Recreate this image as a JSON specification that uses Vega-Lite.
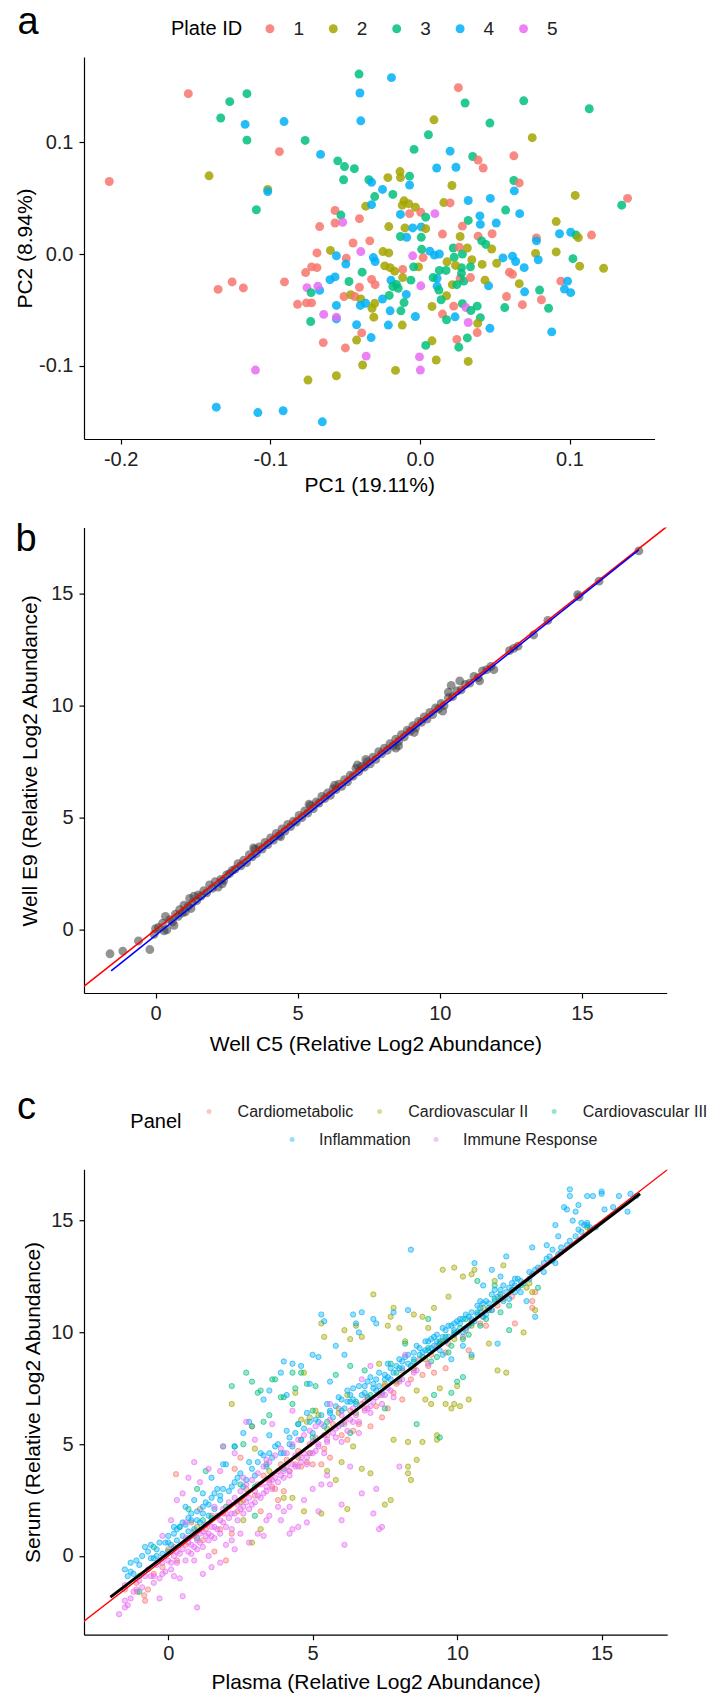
{
"$schema": "https://vega.github.io/schema/vega-lite/v6.json",
"padding": {"left": 14, "top": 4, "right": 5, "bottom": 4},
"background": "white",
"config": {
  "font": "Liberation Sans",
  "view": {"stroke": null},
  "axis": {"grid": false, "domainColor": "#000", "domainWidth": 1.2, "tickColor": "#000", "tickWidth": 1.2, "tickSize": 5, "labelFontSize": 20, "labelColor": "#222", "labelPadding": 5, "titleFontSize": 21, "titleFontWeight": "normal", "titleColor": "#000", "labelFont": "Liberation Sans", "titleFont": "Liberation Sans"},
  "title": {"fontSize": 38, "fontWeight": "normal", "anchor": "start", "frame": "group", "baseline": "alphabetic", "font": "Liberation Sans", "color": "#000"},
  "legend": {"labelFont": "Liberation Sans", "titleFont": "Liberation Sans", "titleFontWeight": "normal", "titleColor": "#000", "labelColor": "#222"}
},
"datasets": {
"a": [
{"pc1":-0.0407,"pc2":0.1613,"plate":"3"},{"pc1":-0.0190,"pc2":0.1581,"plate":"4"},{"pc1":0.0257,"pc2":0.1491,"plate":"1"},{"pc1":-0.1548,"pc2":0.1437,"plate":"1"},{"pc1":-0.1156,"pc2":0.1437,"plate":"3"},{"pc1":-0.0401,"pc2":0.1443,"plate":"4"},{"pc1":-0.1271,"pc2":0.1366,"plate":"3"},{"pc1":0.0694,"pc2":0.1373,"plate":"3"},{"pc1":0.0302,"pc2":0.1354,"plate":"3"},{"pc1":0.1132,"pc2":0.1302,"plate":"3"},
{"pc1":-0.1331,"pc2":0.1219,"plate":"3"},{"pc1":-0.1168,"pc2":0.1162,"plate":"4"},{"pc1":-0.0908,"pc2":0.1187,"plate":"4"},{"pc1":-0.0395,"pc2":0.1194,"plate":"4"},{"pc1":0.0094,"pc2":0.1203,"plate":"2"},{"pc1":0.0468,"pc2":0.1174,"plate":"3"},{"pc1":0.0057,"pc2":0.1069,"plate":"3"},{"pc1":0.0751,"pc2":0.1043,"plate":"2"},{"pc1":-0.1156,"pc2":0.1021,"plate":"3"},{"pc1":-0.0767,"pc2":0.1018,"plate":"3"},
{"pc1":-0.0939,"pc2":0.0918,"plate":"1"},{"pc1":-0.0039,"pc2":0.0938,"plate":"3"},{"pc1":0.0202,"pc2":0.0922,"plate":"4"},{"pc1":-0.0664,"pc2":0.0893,"plate":"4"},{"pc1":0.0628,"pc2":0.0880,"plate":"1"},{"pc1":0.0353,"pc2":0.0874,"plate":"3"},{"pc1":0.0389,"pc2":0.0842,"plate":"1"},{"pc1":-0.0549,"pc2":0.0835,"plate":"3"},{"pc1":-0.1409,"pc2":0.0701,"plate":"2"},{"pc1":-0.2076,"pc2":0.0650,"plate":"1"},
{"pc1":-0.0504,"pc2":0.0784,"plate":"3"},{"pc1":-0.0438,"pc2":0.0765,"plate":"3"},{"pc1":0.0112,"pc2":0.0771,"plate":"4"},{"pc1":0.0241,"pc2":0.0778,"plate":"4"},{"pc1":0.0423,"pc2":0.0771,"plate":"1"},{"pc1":-0.0133,"pc2":0.0739,"plate":"2"},{"pc1":-0.0214,"pc2":0.0685,"plate":"2"},{"pc1":-0.0130,"pc2":0.0685,"plate":"2"},{"pc1":-0.0069,"pc2":0.0698,"plate":"3"},{"pc1":-0.0510,"pc2":0.0666,"plate":"3"},
{"pc1":-0.0341,"pc2":0.0666,"plate":"3"},{"pc1":-0.0323,"pc2":0.0643,"plate":"4"},{"pc1":0.0628,"pc2":0.0659,"plate":"3"},{"pc1":0.0664,"pc2":0.0637,"plate":"1"},{"pc1":0.0214,"pc2":0.0614,"plate":"2"},{"pc1":-0.0069,"pc2":0.0618,"plate":"4"},{"pc1":-0.1017,"pc2":0.0579,"plate":"2"},{"pc1":-0.1017,"pc2":0.0560,"plate":"4"},{"pc1":-0.0250,"pc2":0.0579,"plate":"4"},{"pc1":0.1038,"pc2":0.0525,"plate":"2"},
{"pc1":0.1388,"pc2":0.0499,"plate":"1"},{"pc1":0.1349,"pc2":0.0438,"plate":"3"},{"pc1":-0.1093,"pc2":0.0397,"plate":"3"},{"pc1":-0.0302,"pc2":0.0515,"plate":"3"},{"pc1":-0.0181,"pc2":0.0534,"plate":"3"},{"pc1":0.0631,"pc2":0.0566,"plate":"4"},{"pc1":0.0471,"pc2":0.0499,"plate":"4"},{"pc1":0.0323,"pc2":0.0480,"plate":"4"},{"pc1":0.0160,"pc2":0.0461,"plate":"2"},{"pc1":0.0202,"pc2":0.0458,"plate":"1"},
{"pc1":-0.0106,"pc2":0.0477,"plate":"2"},{"pc1":-0.0118,"pc2":0.0438,"plate":"2"},{"pc1":-0.0075,"pc2":0.0451,"plate":"2"},{"pc1":-0.0030,"pc2":0.0419,"plate":"2"},{"pc1":-0.0362,"pc2":0.0429,"plate":"2"},{"pc1":-0.0323,"pc2":0.0442,"plate":"4"},{"pc1":-0.0567,"pc2":0.0390,"plate":"1"},{"pc1":-0.0528,"pc2":0.0349,"plate":"3"},{"pc1":-0.0404,"pc2":0.0317,"plate":"1"},{"pc1":-0.0516,"pc2":0.0285,"plate":"5"},
{"pc1":-0.0567,"pc2":0.0278,"plate":"1"},{"pc1":-0.0670,"pc2":0.0246,"plate":"1"},{"pc1":-0.0130,"pc2":0.0355,"plate":"4"},{"pc1":-0.0069,"pc2":0.0362,"plate":"1"},{"pc1":0.0006,"pc2":0.0374,"plate":"1"},{"pc1":0.0039,"pc2":0.0330,"plate":"3"},{"pc1":0.0100,"pc2":0.0362,"plate":"5"},{"pc1":0.0401,"pc2":0.0342,"plate":"4"},{"pc1":0.0573,"pc2":0.0394,"plate":"3"},{"pc1":0.0667,"pc2":0.0362,"plate":"4"},
{"pc1":0.0911,"pc2":0.0291,"plate":"2"},{"pc1":0.0323,"pc2":0.0301,"plate":"3"},{"pc1":0.0284,"pc2":0.0250,"plate":"1"},{"pc1":0.0404,"pc2":0.0266,"plate":"4"},{"pc1":0.0510,"pc2":0.0278,"plate":"4"},{"pc1":-0.0208,"pc2":0.0246,"plate":"2"},{"pc1":-0.0100,"pc2":0.0234,"plate":"2"},{"pc1":-0.0048,"pc2":0.0234,"plate":"4"},{"pc1":0.0009,"pc2":0.0243,"plate":"4"},{"pc1":0.0039,"pc2":0.0227,"plate":"2"},
{"pc1":0.0933,"pc2":0.0182,"plate":"4"},{"pc1":0.1008,"pc2":0.0195,"plate":"4"},{"pc1":0.1044,"pc2":0.0170,"plate":"3"},{"pc1":0.1059,"pc2":0.0147,"plate":"2"},{"pc1":0.1147,"pc2":0.0170,"plate":"1"},{"pc1":0.0779,"pc2":0.0144,"plate":"1"},{"pc1":0.0779,"pc2":0.0118,"plate":"4"},{"pc1":0.0151,"pc2":0.0179,"plate":"1"},{"pc1":0.0269,"pc2":0.0157,"plate":"2"},{"pc1":0.0389,"pc2":0.0160,"plate":"1"},
{"pc1":0.0483,"pc2":0.0182,"plate":"1"},{"pc1":0.0413,"pc2":0.0118,"plate":"3"},{"pc1":0.0441,"pc2":0.0086,"plate":"3"},{"pc1":-0.0130,"pc2":0.0157,"plate":"3"},{"pc1":-0.0088,"pc2":0.0150,"plate":"4"},{"pc1":0.0009,"pc2":0.0150,"plate":"3"},{"pc1":-0.0447,"pc2":0.0099,"plate":"1"},{"pc1":-0.0335,"pc2":0.0118,"plate":"1"},{"pc1":-0.0598,"pc2":0.0032,"plate":"2"},{"pc1":-0.0688,"pc2":0.0010,"plate":"1"},
{"pc1":-0.0558,"pc2":-0.0016,"plate":"4"},{"pc1":-0.0492,"pc2":-0.0038,"plate":"1"},{"pc1":-0.0395,"pc2":0.0022,"plate":"5"},{"pc1":-0.0311,"pc2":-0.0032,"plate":"4"},{"pc1":-0.0299,"pc2":-0.0067,"plate":"4"},{"pc1":-0.0247,"pc2":0.0022,"plate":"2"},{"pc1":-0.0208,"pc2":0.0010,"plate":"2"},{"pc1":-0.0048,"pc2":-0.0016,"plate":"5"},{"pc1":0.0021,"pc2":-0.0032,"plate":"1"},{"pc1":0.0012,"pc2":0.0042,"plate":"3"},
{"pc1":0.0066,"pc2":0.0026,"plate":"4"},{"pc1":0.0097,"pc2":-0.0010,"plate":"4"},{"pc1":0.0130,"pc2":0.0000,"plate":"4"},{"pc1":0.0223,"pc2":0.0054,"plate":"3"},{"pc1":0.0263,"pc2":0.0061,"plate":"1"},{"pc1":0.0229,"pc2":-0.0029,"plate":"3"},{"pc1":0.0284,"pc2":0.0000,"plate":"3"},{"pc1":0.0317,"pc2":0.0054,"plate":"2"},{"pc1":0.0480,"pc2":0.0045,"plate":"2"},{"pc1":0.0555,"pc2":-0.0035,"plate":"4"},
{"pc1":0.0619,"pc2":-0.0019,"plate":"4"},{"pc1":0.0640,"pc2":-0.0067,"plate":"4"},{"pc1":0.0697,"pc2":-0.0122,"plate":"4"},{"pc1":0.0773,"pc2":0.0006,"plate":"2"},{"pc1":0.0791,"pc2":-0.0051,"plate":"4"},{"pc1":0.0911,"pc2":0.0019,"plate":"2"},{"pc1":0.1023,"pc2":-0.0042,"plate":"3"},{"pc1":0.1068,"pc2":-0.0109,"plate":"2"},{"pc1":0.1228,"pc2":-0.0128,"plate":"2"},{"pc1":0.0513,"pc2":-0.0083,"plate":"2"},
{"pc1":0.0416,"pc2":-0.0093,"plate":"2"},{"pc1":0.0347,"pc2":-0.0051,"plate":"2"},{"pc1":0.0338,"pc2":-0.0115,"plate":"3"},{"pc1":0.0278,"pc2":-0.0122,"plate":"3"},{"pc1":0.0238,"pc2":-0.0102,"plate":"2"},{"pc1":0.0181,"pc2":-0.0070,"plate":"2"},{"pc1":0.0130,"pc2":-0.0147,"plate":"3"},{"pc1":0.0175,"pc2":-0.0147,"plate":"3"},{"pc1":0.0115,"pc2":-0.0218,"plate":"4"},{"pc1":-0.0009,"pc2":-0.0115,"plate":"2"},
{"pc1":-0.0042,"pc2":-0.0115,"plate":"3"},{"pc1":-0.0115,"pc2":-0.0138,"plate":"1"},{"pc1":-0.0169,"pc2":-0.0154,"plate":"2"},{"pc1":-0.0235,"pc2":-0.0106,"plate":"2"},{"pc1":-0.0199,"pc2":-0.0122,"plate":"2"},{"pc1":-0.0386,"pc2":-0.0163,"plate":"3"},{"pc1":-0.0495,"pc2":-0.0090,"plate":"4"},{"pc1":-0.0567,"pc2":-0.0205,"plate":"4"},{"pc1":-0.0601,"pc2":-0.0230,"plate":"4"},{"pc1":-0.0688,"pc2":-0.0122,"plate":"1"},
{"pc1":-0.0724,"pc2":-0.0115,"plate":"1"},{"pc1":-0.0764,"pc2":-0.0166,"plate":"1"},{"pc1":-0.0905,"pc2":-0.0250,"plate":"1"},{"pc1":-0.1255,"pc2":-0.0250,"plate":"1"},{"pc1":-0.1349,"pc2":-0.0317,"plate":"1"},{"pc1":-0.1180,"pc2":-0.0304,"plate":"1"},{"pc1":-0.0755,"pc2":-0.0301,"plate":"5"},{"pc1":-0.0727,"pc2":-0.0346,"plate":"3"},{"pc1":-0.0670,"pc2":-0.0326,"plate":"4"},{"pc1":-0.0682,"pc2":-0.0288,"plate":"5"},
{"pc1":-0.0818,"pc2":-0.0451,"plate":"1"},{"pc1":-0.0758,"pc2":-0.0438,"plate":"1"},{"pc1":-0.0724,"pc2":-0.0438,"plate":"1"},{"pc1":-0.0558,"pc2":-0.0461,"plate":"4"},{"pc1":-0.0643,"pc2":-0.0541,"plate":"5"},{"pc1":-0.0558,"pc2":-0.0582,"plate":"4"},{"pc1":-0.0558,"pc2":-0.0566,"plate":"5"},{"pc1":-0.0730,"pc2":-0.0605,"plate":"3"},{"pc1":-0.0474,"pc2":-0.0246,"plate":"3"},{"pc1":-0.0404,"pc2":-0.0298,"plate":"1"},
{"pc1":-0.0323,"pc2":-0.0227,"plate":"1"},{"pc1":-0.0299,"pc2":-0.0275,"plate":"1"},{"pc1":-0.0193,"pc2":-0.0234,"plate":"4"},{"pc1":-0.0157,"pc2":-0.0272,"plate":"3"},{"pc1":-0.0145,"pc2":-0.0307,"plate":"3"},{"pc1":-0.0115,"pc2":-0.0211,"plate":"2"},{"pc1":-0.0060,"pc2":-0.0234,"plate":"3"},{"pc1":0.0006,"pc2":-0.0285,"plate":"5"},{"pc1":0.0088,"pc2":-0.0211,"plate":"3"},{"pc1":0.0115,"pc2":-0.0288,"plate":"4"},
{"pc1":0.0127,"pc2":-0.0323,"plate":"3"},{"pc1":0.0217,"pc2":-0.0275,"plate":"2"},{"pc1":0.0269,"pc2":-0.0218,"plate":"1"},{"pc1":0.0293,"pc2":-0.0243,"plate":"3"},{"pc1":0.0338,"pc2":-0.0211,"plate":"1"},{"pc1":0.0247,"pc2":-0.0275,"plate":"3"},{"pc1":0.0278,"pc2":-0.0173,"plate":"3"},{"pc1":0.0459,"pc2":-0.0285,"plate":"4"},{"pc1":0.0435,"pc2":-0.0234,"plate":"2"},{"pc1":0.0598,"pc2":-0.0163,"plate":"1"},
{"pc1":0.0619,"pc2":-0.0182,"plate":"1"},{"pc1":0.0664,"pc2":-0.0266,"plate":"2"},{"pc1":0.0700,"pc2":-0.0339,"plate":"4"},{"pc1":0.0800,"pc2":-0.0323,"plate":"3"},{"pc1":0.0942,"pc2":-0.0243,"plate":"1"},{"pc1":0.0987,"pc2":-0.0243,"plate":"4"},{"pc1":0.0966,"pc2":-0.0314,"plate":"4"},{"pc1":0.1008,"pc2":-0.0346,"plate":"4"},{"pc1":0.0579,"pc2":-0.0381,"plate":"1"},{"pc1":0.0685,"pc2":-0.0454,"plate":"1"},
{"pc1":0.0812,"pc2":-0.0410,"plate":"1"},{"pc1":0.0567,"pc2":-0.0480,"plate":"3"},{"pc1":0.0860,"pc2":-0.0486,"plate":"3"},{"pc1":0.0881,"pc2":-0.0698,"plate":"4"},{"pc1":0.0468,"pc2":-0.0666,"plate":"4"},{"pc1":-0.0507,"pc2":-0.0381,"plate":"1"},{"pc1":-0.0462,"pc2":-0.0365,"plate":"2"},{"pc1":-0.0435,"pc2":-0.0381,"plate":"1"},{"pc1":-0.0395,"pc2":-0.0403,"plate":"2"},{"pc1":-0.0362,"pc2":-0.0442,"plate":"4"},
{"pc1":-0.0302,"pc2":-0.0442,"plate":"2"},{"pc1":-0.0320,"pc2":-0.0486,"plate":"2"},{"pc1":-0.0250,"pc2":-0.0403,"plate":"4"},{"pc1":-0.0205,"pc2":-0.0371,"plate":"3"},{"pc1":-0.0181,"pc2":-0.0291,"plate":"3"},{"pc1":-0.0091,"pc2":-0.0362,"plate":"4"},{"pc1":-0.0106,"pc2":-0.0435,"plate":"3"},{"pc1":-0.0127,"pc2":-0.0509,"plate":"3"},{"pc1":-0.0199,"pc2":-0.0509,"plate":"4"},{"pc1":-0.0308,"pc2":-0.0566,"plate":"2"},
{"pc1":-0.0398,"pc2":-0.0461,"plate":"4"},{"pc1":-0.0423,"pc2":-0.0634,"plate":"4"},{"pc1":-0.0389,"pc2":-0.0707,"plate":"1"},{"pc1":-0.0423,"pc2":-0.0771,"plate":"2"},{"pc1":-0.0326,"pc2":-0.0749,"plate":"4"},{"pc1":-0.0211,"pc2":-0.0637,"plate":"4"},{"pc1":-0.0118,"pc2":-0.0637,"plate":"2"},{"pc1":-0.0030,"pc2":-0.0560,"plate":"4"},{"pc1":0.0081,"pc2":-0.0470,"plate":"2"},{"pc1":0.0151,"pc2":-0.0538,"plate":"1"},
{"pc1":0.0178,"pc2":-0.0589,"plate":"3"},{"pc1":0.0178,"pc2":-0.0374,"plate":"2"},{"pc1":0.0142,"pc2":-0.0410,"plate":"3"},{"pc1":0.0226,"pc2":-0.0467,"plate":"1"},{"pc1":0.0235,"pc2":-0.0563,"plate":"4"},{"pc1":0.0284,"pc2":-0.0445,"plate":"3"},{"pc1":0.0308,"pc2":-0.0480,"plate":"5"},{"pc1":0.0341,"pc2":-0.0506,"plate":"3"},{"pc1":0.0383,"pc2":-0.0467,"plate":"3"},{"pc1":0.0404,"pc2":-0.0570,"plate":"3"},
{"pc1":0.0386,"pc2":-0.0621,"plate":"2"},{"pc1":0.0323,"pc2":-0.0614,"plate":"5"},{"pc1":0.0383,"pc2":-0.0704,"plate":"1"},{"pc1":0.0317,"pc2":-0.0752,"plate":"3"},{"pc1":0.0247,"pc2":-0.0765,"plate":"1"},{"pc1":0.0260,"pc2":-0.0835,"plate":"3"},{"pc1":0.0081,"pc2":-0.0778,"plate":"2"},{"pc1":0.0039,"pc2":-0.0819,"plate":"3"},{"pc1":0.0109,"pc2":-0.0950,"plate":"2"},{"pc1":0.0323,"pc2":-0.0963,"plate":"2"},
{"pc1":-0.0003,"pc2":-0.0922,"plate":"5"},{"pc1":0.0003,"pc2":-0.1040,"plate":"5"},{"pc1":-0.0163,"pc2":-0.1043,"plate":"2"},{"pc1":-0.0359,"pc2":-0.0915,"plate":"5"},{"pc1":-0.0383,"pc2":-0.0995,"plate":"2"},{"pc1":-0.0498,"pc2":-0.0842,"plate":"1"},{"pc1":-0.0646,"pc2":-0.0794,"plate":"1"},{"pc1":-0.1099,"pc2":-0.1040,"plate":"5"},{"pc1":-0.0748,"pc2":-0.1130,"plate":"2"},{"pc1":-0.0558,"pc2":-0.1091,"plate":"2"},
{"pc1":-0.1361,"pc2":-0.1373,"plate":"4"},{"pc1":-0.1083,"pc2":-0.1421,"plate":"4"},{"pc1":-0.0914,"pc2":-0.1405,"plate":"4"},{"pc1":-0.0652,"pc2":-0.1504,"plate":"4"}
],
"b": [
{"c5":-1.6,"e9":-1.07},{"c5":-1.15,"e9":-0.95},{"c5":-0.6,"e9":-0.5},{"c5":-0.2,"e9":-0.88},{"c5":0.0,"e9":0.05},{"c5":-0.05,"e9":-0.2},{"c5":0.1,"e9":0.1},{"c5":0.25,"e9":0.3},{"c5":0.35,"e9":0.6},{"c5":0.4,"e9":0.0},
{"c5":0.5,"e9":0.45},{"c5":0.6,"e9":0.35},{"c5":0.7,"e9":0.7},{"c5":0.8,"e9":0.6},{"c5":0.85,"e9":0.9},{"c5":0.95,"e9":0.75},{"c5":1.0,"e9":1.1},{"c5":1.05,"e9":0.8},{"c5":1.15,"e9":1.05},{"c5":1.2,"e9":1.4},
{"c5":1.3,"e9":1.2},{"c5":1.35,"e9":1.5},{"c5":1.45,"e9":1.3},{"c5":1.5,"e9":1.55},{"c5":1.6,"e9":1.5},{"c5":1.7,"e9":1.75},{"c5":1.8,"e9":1.65},{"c5":1.9,"e9":2.0},{"c5":2.0,"e9":1.85},{"c5":2.1,"e9":2.15},
{"c5":2.2,"e9":1.9},{"c5":2.3,"e9":2.25},{"c5":2.4,"e9":2.2},{"c5":2.5,"e9":2.45},{"c5":2.6,"e9":2.5},{"c5":2.7,"e9":2.65},{"c5":2.8,"e9":2.7},{"c5":2.9,"e9":2.95},{"c5":3.0,"e9":2.85},{"c5":3.1,"e9":3.1},
{"c5":3.2,"e9":3.0},{"c5":3.3,"e9":3.35},{"c5":3.4,"e9":3.25},{"c5":3.5,"e9":3.6},{"c5":3.55,"e9":3.4},{"c5":3.65,"e9":3.7},{"c5":3.75,"e9":3.6},{"c5":3.85,"e9":3.9},{"c5":3.95,"e9":3.8},{"c5":4.05,"e9":4.1},
{"c5":4.15,"e9":4.0},{"c5":4.25,"e9":4.3},{"c5":4.35,"e9":4.2},{"c5":4.45,"e9":4.5},{"c5":4.55,"e9":4.4},{"c5":4.65,"e9":4.7},{"c5":4.75,"e9":4.6},{"c5":4.85,"e9":4.85},{"c5":4.95,"e9":4.8},{"c5":5.05,"e9":5.1},
{"c5":5.15,"e9":5.0},{"c5":5.25,"e9":5.3},{"c5":5.35,"e9":5.2},{"c5":5.45,"e9":5.55},{"c5":5.55,"e9":5.4},{"c5":5.65,"e9":5.7},{"c5":5.75,"e9":5.65},{"c5":5.85,"e9":5.95},{"c5":5.95,"e9":5.85},{"c5":6.05,"e9":6.1},
{"c5":6.15,"e9":6.0},{"c5":6.25,"e9":6.3},{"c5":6.35,"e9":6.25},{"c5":6.45,"e9":6.5},{"c5":6.55,"e9":6.4},{"c5":6.65,"e9":6.7},{"c5":6.75,"e9":6.6},{"c5":6.85,"e9":6.9},{"c5":6.95,"e9":6.85},{"c5":7.05,"e9":7.2},
{"c5":7.15,"e9":7.05},{"c5":7.25,"e9":7.3},{"c5":7.35,"e9":7.25},{"c5":7.45,"e9":7.5},{"c5":7.55,"e9":7.4},{"c5":7.65,"e9":7.7},{"c5":7.75,"e9":7.6},{"c5":7.85,"e9":7.95},{"c5":7.95,"e9":7.85},{"c5":8.05,"e9":8.1},
{"c5":8.15,"e9":8.0},{"c5":8.25,"e9":8.3},{"c5":8.35,"e9":8.2},{"c5":8.45,"e9":8.5},{"c5":8.55,"e9":8.4},{"c5":8.65,"e9":8.7},{"c5":8.75,"e9":8.6},{"c5":8.85,"e9":8.9},{"c5":8.95,"e9":8.85},{"c5":9.05,"e9":9.1},
{"c5":9.15,"e9":9.0},{"c5":9.25,"e9":9.3},{"c5":9.35,"e9":9.25},{"c5":9.45,"e9":9.5},{"c5":9.55,"e9":9.4},{"c5":9.65,"e9":9.7},{"c5":9.75,"e9":9.6},{"c5":9.85,"e9":9.9},{"c5":9.95,"e9":9.85},{"c5":10.05,"e9":10.1},
{"c5":10.15,"e9":10.0},{"c5":10.3,"e9":10.35},{"c5":10.45,"e9":10.4},{"c5":10.6,"e9":10.65},{"c5":10.75,"e9":10.7},{"c5":10.9,"e9":10.95},{"c5":11.05,"e9":11.0},{"c5":11.2,"e9":11.3},{"c5":11.35,"e9":11.25},{"c5":11.5,"e9":11.55},
{"c5":11.65,"e9":11.6},{"c5":11.8,"e9":11.75},{"c5":11.9,"e9":11.6},{"c5":12.45,"e9":12.45},{"c5":12.6,"e9":12.55},{"c5":12.75,"e9":12.65},{"c5":13.3,"e9":13.15},{"c5":13.8,"e9":13.8},{"c5":14.85,"e9":14.95},{"c5":14.9,"e9":14.85},
{"c5":15.6,"e9":15.55},{"c5":17.0,"e9":16.9},{"c5":10.4,"e9":10.9},{"c5":10.7,"e9":11.1},{"c5":10.3,"e9":10.6},{"c5":8.45,"e9":8.1},{"c5":8.55,"e9":8.2},{"c5":0.3,"e9":-0.05},{"c5":0.65,"e9":0.2},{"c5":7.1,"e9":7.35},
{"c5":7.4,"e9":7.6},{"c5":3.45,"e9":3.65},{"c5":5.4,"e9":5.6},{"c5":6.3,"e9":6.45},{"c5":9.1,"e9":8.8},{"c5":10.1,"e9":9.75},{"c5":11.4,"e9":11.1},{"c5":2.35,"e9":2.05},{"c5":1.25,"e9":0.95},{"c5":4.4,"e9":4.15}
],
"c": [
{"x":-1.5,"y":-0.6,"g":"INF"},{"x":-1.4,"y":-0.9,"g":"INF"},{"x":-1.3,"y":-0.3,"g":"INF"},{"x":-1.2,"y":-0.8,"g":"INF"},{"x":-1.0,"y":-0.4,"g":"INF"},{"x":-0.8,"y":0.4,"g":"INF"},{"x":-0.7,"y":0.2,"g":"INF"},{"x":-0.6,"y":0.5,"g":"INF"},{"x":-0.5,"y":-0.1,"g":"INF"},{"x":-0.4,"y":0.3,"g":"INF"},
{"x":-0.3,"y":0.6,"g":"INF"},{"x":-0.2,"y":0.1,"g":"INF"},{"x":0.0,"y":0.9,"g":"INF"},{"x":0.1,"y":0.5,"g":"INF"},{"x":0.2,"y":1.0,"g":"INF"},{"x":0.3,"y":0.7,"g":"INF"},{"x":0.4,"y":1.3,"g":"INF"},{"x":0.5,"y":0.9,"g":"INF"},{"x":0.6,"y":1.4,"g":"INF"},{"x":0.7,"y":1.1,"g":"INF"},
{"x":0.8,"y":1.6,"g":"INF"},{"x":0.9,"y":1.2,"g":"INF"},{"x":1.0,"y":2.0,"g":"INF"},{"x":1.1,"y":1.5,"g":"INF"},{"x":1.2,"y":1.9,"g":"INF"},{"x":1.3,"y":2.4,"g":"INF"},{"x":1.4,"y":1.8,"g":"INF"},{"x":1.5,"y":2.6,"g":"INF"},{"x":1.6,"y":2.1,"g":"INF"},{"x":1.7,"y":3.0,"g":"INF"},
{"x":1.8,"y":2.5,"g":"INF"},{"x":2.0,"y":4.1,"g":"INF"},{"x":2.1,"y":2.9,"g":"INF"},{"x":2.3,"y":3.3,"g":"INF"},{"x":2.5,"y":3.7,"g":"INF"},{"x":2.6,"y":3.1,"g":"INF"},{"x":2.8,"y":4.2,"g":"INF"},{"x":3.0,"y":3.6,"g":"INF"},{"x":3.2,"y":4.6,"g":"INF"},{"x":3.4,"y":4.0,"g":"INF"},
{"x":3.5,"y":5.4,"g":"INF"},{"x":3.6,"y":4.4,"g":"INF"},{"x":3.8,"y":5.0,"g":"INF"},{"x":4.0,"y":4.6,"g":"INF"},{"x":4.1,"y":5.6,"g":"INF"},{"x":4.3,"y":4.9,"g":"INF"},{"x":4.5,"y":5.9,"g":"INF"},{"x":4.6,"y":5.2,"g":"INF"},{"x":4.8,"y":6.4,"g":"INF"},{"x":5.0,"y":5.5,"g":"INF"},
{"x":5.2,"y":6.0,"g":"INF"},{"x":5.4,"y":5.8,"g":"INF"},{"x":5.5,"y":6.8,"g":"INF"},{"x":5.7,"y":6.2,"g":"INF"},{"x":5.9,"y":7.1,"g":"INF"},{"x":6.0,"y":6.5,"g":"INF"},{"x":6.2,"y":7.4,"g":"INF"},{"x":6.4,"y":7.0,"g":"INF"},{"x":6.6,"y":7.6,"g":"INF"},{"x":6.8,"y":7.3,"g":"INF"},
{"x":7.0,"y":8.0,"g":"INF"},{"x":7.1,"y":7.5,"g":"INF"},{"x":7.3,"y":8.2,"g":"INF"},{"x":7.5,"y":7.9,"g":"INF"},{"x":7.6,"y":8.6,"g":"INF"},{"x":7.8,"y":8.2,"g":"INF"},{"x":8.0,"y":8.8,"g":"INF"},{"x":8.1,"y":8.4,"g":"INF"},{"x":8.3,"y":9.0,"g":"INF"},{"x":8.5,"y":8.8,"g":"INF"},
{"x":8.6,"y":9.4,"g":"INF"},{"x":8.8,"y":9.1,"g":"INF"},{"x":9.0,"y":9.6,"g":"INF"},{"x":9.1,"y":9.3,"g":"INF"},{"x":9.3,"y":9.9,"g":"INF"},{"x":9.4,"y":9.5,"g":"INF"},{"x":9.6,"y":10.1,"g":"INF"},{"x":9.7,"y":9.8,"g":"INF"},{"x":9.9,"y":10.4,"g":"INF"},{"x":10.0,"y":10.0,"g":"INF"},
{"x":10.2,"y":10.6,"g":"INF"},{"x":10.3,"y":10.2,"g":"INF"},{"x":10.5,"y":10.9,"g":"INF"},{"x":10.6,"y":10.5,"g":"INF"},{"x":10.8,"y":11.1,"g":"INF"},{"x":10.9,"y":10.7,"g":"INF"},{"x":11.1,"y":11.3,"g":"INF"},{"x":11.2,"y":11.0,"g":"INF"},{"x":11.4,"y":11.6,"g":"INF"},{"x":11.6,"y":11.4,"g":"INF"},
{"x":11.8,"y":12.0,"g":"INF"},{"x":12.0,"y":11.8,"g":"INF"},{"x":12.2,"y":12.3,"g":"INF"},{"x":12.5,"y":12.4,"g":"INF"},{"x":12.7,"y":12.8,"g":"INF"},{"x":13.0,"y":13.1,"g":"INF"},{"x":13.2,"y":13.4,"g":"INF"},{"x":13.5,"y":13.5,"g":"INF"},{"x":13.8,"y":13.9,"g":"INF"},{"x":14.2,"y":14.6,"g":"INF"},
{"x":14.4,"y":14.8,"g":"INF"},{"x":14.5,"y":14.9,"g":"INF"},{"x":14.6,"y":14.7,"g":"INF"},{"x":4.0,"y":8.7,"g":"INF"},{"x":4.3,"y":8.6,"g":"INF"},{"x":4.6,"y":8.5,"g":"INF"},{"x":3.9,"y":8.2,"g":"INF"},{"x":5.2,"y":8.9,"g":"INF"},{"x":5.6,"y":7.8,"g":"INF"},{"x":4.9,"y":7.7,"g":"INF"},
{"x":4.1,"y":7.2,"g":"INF"},{"x":3.5,"y":7.4,"g":"INF"},{"x":3.3,"y":7.0,"g":"INF"},{"x":2.8,"y":6.0,"g":"INF"},{"x":2.6,"y":5.5,"g":"INF"},{"x":2.3,"y":4.9,"g":"INF"},{"x":1.9,"y":4.1,"g":"INF"},{"x":1.5,"y":3.5,"g":"INF"},{"x":1.2,"y":2.8,"g":"INF"},{"x":0.9,"y":2.5,"g":"INF"},
{"x":0.6,"y":2.2,"g":"INF"},{"x":6.4,"y":10.8,"g":"INF"},{"x":6.5,"y":10.4,"g":"INF"},{"x":5.3,"y":10.8,"g":"INF"},{"x":5.4,"y":10.5,"g":"INF"},{"x":7.2,"y":10.4,"g":"INF"},{"x":7.8,"y":10.9,"g":"INF"},{"x":8.3,"y":11.0,"g":"INF"},{"x":8.4,"y":13.7,"g":"INF"},{"x":10.6,"y":13.1,"g":"INF"},
{"x":11.7,"y":13.4,"g":"INF"},{"x":10.9,"y":12.1,"g":"INF"},{"x":11.5,"y":12.5,"g":"INF"},{"x":11.2,"y":12.8,"g":"INF"},{"x":12.0,"y":12.4,"g":"INF"},{"x":12.6,"y":12.6,"g":"INF"},{"x":12.7,"y":10.7,"g":"INF"},{"x":12.4,"y":11.4,"g":"INF"},{"x":11.4,"y":9.5,"g":"INF"},{"x":10.5,"y":9.0,"g":"INF"},
{"x":9.8,"y":8.8,"g":"INF"},{"x":9.5,"y":9.0,"g":"INF"},{"x":10.2,"y":9.4,"g":"INF"},{"x":13.9,"y":16.4,"g":"INF"},{"x":13.9,"y":16.1,"g":"INF"},{"x":14.2,"y":15.7,"g":"INF"},{"x":14.5,"y":16.1,"g":"INF"},{"x":14.7,"y":16.1,"g":"INF"},{"x":15.0,"y":16.2,"g":"INF"},{"x":15.0,"y":16.3,"g":"INF"},
{"x":15.6,"y":16.1,"g":"INF"},{"x":13.8,"y":15.5,"g":"INF"},{"x":13.7,"y":15.6,"g":"INF"},{"x":14.1,"y":15.4,"g":"INF"},{"x":14.3,"y":14.9,"g":"INF"},{"x":14.5,"y":14.8,"g":"INF"},{"x":15.1,"y":15.5,"g":"INF"},{"x":15.4,"y":15.6,"g":"INF"},{"x":15.9,"y":15.4,"g":"INF"},{"x":14.0,"y":15.0,"g":"INF"},
{"x":13.4,"y":14.8,"g":"INF"},{"x":13.5,"y":14.3,"g":"INF"},{"x":13.1,"y":13.9,"g":"INF"},{"x":12.6,"y":13.8,"g":"INF"},{"x":13.3,"y":13.7,"g":"INF"},{"x":13.6,"y":13.6,"g":"INF"},{"x":14.8,"y":14.7,"g":"INF"},{"x":16.0,"y":16.2,"g":"INF"},{"x":16.2,"y":16.1,"g":"INF"},{"x":8.2,"y":8.9,"g":"INF"},
{"x":8.7,"y":9.0,"g":"INF"},{"x":8.9,"y":9.6,"g":"INF"},{"x":9.2,"y":9.8,"g":"INF"},{"x":9.5,"y":10.2,"g":"INF"},{"x":9.8,"y":10.3,"g":"INF"},{"x":10.1,"y":10.6,"g":"INF"},{"x":10.4,"y":10.7,"g":"INF"},{"x":10.7,"y":11.2,"g":"INF"},{"x":11.0,"y":11.4,"g":"INF"},{"x":11.3,"y":11.9,"g":"INF"},
{"x":11.5,"y":11.7,"g":"INF"},{"x":11.9,"y":12.2,"g":"INF"},{"x":12.1,"y":12.0,"g":"INF"},{"x":9.0,"y":9.2,"g":"INF"},{"x":9.9,"y":9.9,"g":"INF"},{"x":10.8,"y":10.9,"g":"INF"},{"x":7.2,"y":7.9,"g":"INF"},{"x":7.7,"y":8.4,"g":"INF"},{"x":6.9,"y":7.8,"g":"INF"},{"x":6.3,"y":7.2,"g":"INF"},
{"x":5.8,"y":6.7,"g":"INF"},{"x":5.3,"y":6.3,"g":"INF"},{"x":4.4,"y":5.5,"g":"INF"},{"x":3.7,"y":4.9,"g":"INF"},{"x":3.1,"y":4.2,"g":"INF"},{"x":2.4,"y":3.5,"g":"INF"},{"x":1.9,"y":3.0,"g":"INF"},{"x":1.4,"y":2.3,"g":"INF"},{"x":0.8,"y":1.9,"g":"INF"},{"x":0.2,"y":1.3,"g":"INF"},
{"x":-0.1,"y":0.6,"g":"INF"},{"x":-0.9,"y":0.0,"g":"INF"},{"x":-1.1,"y":-0.2,"g":"INF"},{"x":6.1,"y":9.0,"g":"INF"},{"x":5.8,"y":9.4,"g":"INF"},{"x":5.0,"y":9.0,"g":"INF"},{"x":6.7,"y":10.9,"g":"INF"},{"x":7.1,"y":10.6,"g":"INF"},{"x":6.6,"y":10.0,"g":"INF"},
{"x":6.1,"y":6.6,"g":"INF"},{"x":6.3,"y":6.9,"g":"INF"},{"x":6.5,"y":6.8,"g":"INF"},{"x":6.7,"y":7.2,"g":"INF"},{"x":6.9,"y":7.1,"g":"INF"},{"x":7.1,"y":7.7,"g":"INF"},{"x":7.3,"y":7.6,"g":"INF"},{"x":7.5,"y":8.1,"g":"INF"},{"x":7.7,"y":7.9,"g":"INF"},{"x":7.9,"y":8.5,"g":"INF"},
{"x":8.1,"y":8.7,"g":"INF"},{"x":8.3,"y":8.6,"g":"INF"},{"x":8.5,"y":9.1,"g":"INF"},{"x":8.7,"y":9.3,"g":"INF"},{"x":8.9,"y":9.2,"g":"INF"},{"x":9.1,"y":9.7,"g":"INF"},{"x":9.3,"y":9.6,"g":"INF"},{"x":9.5,"y":9.8,"g":"INF"},{"x":9.7,"y":10.3,"g":"INF"},{"x":9.9,"y":10.1,"g":"INF"},
{"x":10.1,"y":10.4,"g":"INF"},{"x":10.3,"y":10.8,"g":"INF"},{"x":10.5,"y":10.6,"g":"INF"},{"x":10.7,"y":10.8,"g":"INF"},{"x":10.9,"y":11.3,"g":"INF"},{"x":11.1,"y":11.1,"g":"INF"},{"x":11.3,"y":11.4,"g":"INF"},{"x":11.5,"y":11.9,"g":"INF"},{"x":11.7,"y":11.8,"g":"INF"},{"x":11.9,"y":11.9,"g":"INF"},
{"x":12.1,"y":12.4,"g":"INF"},{"x":12.3,"y":12.2,"g":"INF"},{"x":12.5,"y":12.7,"g":"INF"},{"x":12.8,"y":12.9,"g":"INF"},{"x":13.1,"y":13.3,"g":"INF"},{"x":13.3,"y":13.2,"g":"INF"},{"x":13.6,"y":13.8,"g":"INF"},{"x":13.9,"y":14.1,"g":"INF"},{"x":14.1,"y":14.3,"g":"INF"},{"x":14.3,"y":14.5,"g":"INF"},
{"x":9.2,"y":9.4,"g":"INF"},{"x":9.6,"y":9.6,"g":"INF"},{"x":10.0,"y":10.5,"g":"INF"},{"x":10.4,"y":10.3,"g":"INF"},{"x":10.8,"y":11.4,"g":"INF"},{"x":11.2,"y":11.7,"g":"INF"},{"x":11.6,"y":12.1,"g":"INF"},{"x":12.0,"y":12.1,"g":"INF"},{"x":8.4,"y":8.5,"g":"INF"},{"x":8.0,"y":8.4,"g":"INF"},
{"x":7.6,"y":8.0,"g":"INF"},{"x":7.2,"y":7.4,"g":"INF"},{"x":6.8,"y":7.6,"g":"INF"},{"x":6.4,"y":7.5,"g":"INF"},{"x":6.0,"y":7.0,"g":"INF"},{"x":5.6,"y":6.5,"g":"INF"},{"x":5.1,"y":6.1,"g":"INF"},{"x":4.7,"y":5.7,"g":"INF"},{"x":4.2,"y":5.3,"g":"INF"},{"x":3.9,"y":4.6,"g":"INF"},
{"x":3.3,"y":4.5,"g":"INF"},{"x":2.9,"y":3.9,"g":"INF"},{"x":2.2,"y":3.1,"g":"INF"},{"x":1.6,"y":2.8,"g":"INF"},{"x":1.0,"y":1.6,"g":"INF"},{"x":0.5,"y":1.5,"g":"INF"},{"x":0.0,"y":0.6,"g":"INF"},{"x":-0.6,"y":-0.1,"g":"INF"},{"x":-1.3,"y":-0.7,"g":"INF"},{"x":-0.4,"y":0.0,"g":"INF"},
{"x":0.3,"y":1.2,"g":"INF"},{"x":0.7,"y":1.7,"g":"INF"},{"x":1.2,"y":2.2,"g":"INF"},{"x":1.8,"y":2.7,"g":"INF"},{"x":2.7,"y":3.4,"g":"INF"},{"x":3.5,"y":4.6,"g":"INF"},{"x":4.2,"y":5.0,"g":"INF"},{"x":4.9,"y":6.0,"g":"INF"},{"x":5.6,"y":6.4,"g":"INF"},{"x":6.2,"y":6.9,"g":"INF"},
{"x":12.2,"y":11.8,"g":"INF"},{"x":11.8,"y":11.5,"g":"INF"},{"x":11.0,"y":10.8,"g":"INF"},{"x":10.2,"y":10.0,"g":"INF"},{"x":9.4,"y":9.2,"g":"INF"},{"x":13.0,"y":12.7,"g":"INF"},{"x":13.4,"y":13.1,"g":"INF"},
{"x":-1.5,"y":-1.3,"g":"IR"},{"x":-1.4,"y":-2.2,"g":"IR"},{"x":-1.3,"y":-1.9,"g":"IR"},{"x":-1.7,"y":-2.6,"g":"IR"},{"x":-1.2,"y":-1.6,"g":"IR"},{"x":-0.9,"y":-1.4,"g":"IR"},{"x":-0.8,"y":-0.9,"g":"IR"},{"x":-0.6,"y":-0.9,"g":"IR"},{"x":-0.4,"y":-0.4,"g":"IR"},{"x":-0.3,"y":-1.0,"g":"IR"},
{"x":-0.2,"y":-0.3,"g":"IR"},{"x":0.0,"y":-0.2,"g":"IR"},{"x":0.1,"y":-0.6,"g":"IR"},{"x":0.2,"y":0.0,"g":"IR"},{"x":0.3,"y":-0.3,"g":"IR"},{"x":0.4,"y":-1.0,"g":"IR"},{"x":0.5,"y":0.3,"g":"IR"},{"x":0.6,"y":-0.2,"g":"IR"},{"x":0.7,"y":0.6,"g":"IR"},{"x":0.8,"y":0.1,"g":"IR"},
{"x":0.9,"y":0.9,"g":"IR"},{"x":1.0,"y":0.3,"g":"IR"},{"x":1.0,"y":-2.3,"g":"IR"},{"x":1.1,"y":1.0,"g":"IR"},{"x":1.2,"y":0.4,"g":"IR"},{"x":1.3,"y":1.4,"g":"IR"},{"x":1.4,"y":0.7,"g":"IR"},{"x":1.5,"y":-0.5,"g":"IR"},{"x":1.5,"y":1.3,"g":"IR"},{"x":1.6,"y":0.8,"g":"IR"},
{"x":1.7,"y":1.8,"g":"IR"},{"x":1.8,"y":1.0,"g":"IR"},{"x":1.9,"y":2.1,"g":"IR"},{"x":2.0,"y":1.3,"g":"IR"},{"x":2.1,"y":2.4,"g":"IR"},{"x":2.2,"y":1.2,"g":"IR"},{"x":2.3,"y":2.6,"g":"IR"},{"x":2.4,"y":1.6,"g":"IR"},{"x":2.5,"y":2.9,"g":"IR"},{"x":2.6,"y":1.9,"g":"IR"},
{"x":2.7,"y":3.2,"g":"IR"},{"x":2.8,"y":2.1,"g":"IR"},{"x":2.9,"y":3.4,"g":"IR"},{"x":3.0,"y":2.4,"g":"IR"},{"x":3.1,"y":3.7,"g":"IR"},{"x":3.2,"y":2.6,"g":"IR"},{"x":3.3,"y":4.0,"g":"IR"},{"x":3.4,"y":2.9,"g":"IR"},{"x":3.5,"y":4.2,"g":"IR"},{"x":3.6,"y":3.0,"g":"IR"},
{"x":3.7,"y":4.5,"g":"IR"},{"x":3.8,"y":3.3,"g":"IR"},{"x":3.9,"y":4.8,"g":"IR"},{"x":4.0,"y":3.5,"g":"IR"},{"x":4.1,"y":4.6,"g":"IR"},{"x":4.2,"y":3.8,"g":"IR"},{"x":4.3,"y":5.0,"g":"IR"},{"x":4.4,"y":4.0,"g":"IR"},{"x":4.5,"y":5.2,"g":"IR"},{"x":4.6,"y":4.2,"g":"IR"},
{"x":4.7,"y":5.4,"g":"IR"},{"x":4.8,"y":4.4,"g":"IR"},{"x":4.9,"y":5.6,"g":"IR"},{"x":5.0,"y":4.6,"g":"IR"},{"x":5.1,"y":5.8,"g":"IR"},{"x":5.2,"y":4.9,"g":"IR"},{"x":5.3,"y":5.9,"g":"IR"},{"x":5.5,"y":5.1,"g":"IR"},{"x":5.6,"y":6.1,"g":"IR"},{"x":5.8,"y":5.3,"g":"IR"},
{"x":6.0,"y":6.3,"g":"IR"},{"x":6.2,"y":5.6,"g":"IR"},{"x":6.4,"y":6.6,"g":"IR"},{"x":6.6,"y":6.0,"g":"IR"},{"x":6.8,"y":6.9,"g":"IR"},{"x":7.0,"y":6.4,"g":"IR"},{"x":7.2,"y":7.1,"g":"IR"},{"x":7.4,"y":6.8,"g":"IR"},{"x":7.6,"y":7.5,"g":"IR"},{"x":7.8,"y":7.1,"g":"IR"},
{"x":8.0,"y":7.8,"g":"IR"},{"x":8.3,"y":7.7,"g":"IR"},{"x":8.6,"y":8.3,"g":"IR"},{"x":9.0,"y":8.6,"g":"IR"},{"x":1.2,"y":-0.8,"g":"IR"},{"x":0.5,"y":-1.8,"g":"IR"},{"x":-0.3,"y":-1.9,"g":"IR"},{"x":0.2,"y":-0.9,"g":"IR"},{"x":1.4,"y":0.0,"g":"IR"},{"x":2.3,"y":0.3,"g":"IR"},
{"x":2.0,"y":0.5,"g":"IR"},{"x":3.1,"y":1.0,"g":"IR"},{"x":3.3,"y":0.9,"g":"IR"},{"x":2.8,"y":0.6,"g":"IR"},{"x":4.2,"y":2.2,"g":"IR"},{"x":4.5,"y":1.3,"g":"IR"},{"x":4.8,"y":1.5,"g":"IR"},{"x":5.2,"y":2.0,"g":"IR"},{"x":6.0,"y":2.3,"g":"IR"},{"x":6.1,"y":0.5,"g":"IR"},
{"x":6.7,"y":2.8,"g":"IR"},{"x":7.3,"y":1.2,"g":"IR"},{"x":7.2,"y":3.0,"g":"IR"},{"x":5.6,"y":3.2,"g":"IR"},{"x":5.0,"y":3.0,"g":"IR"},{"x":3.8,"y":2.2,"g":"IR"},{"x":3.5,"y":1.8,"g":"IR"},{"x":2.5,"y":1.0,"g":"IR"},{"x":1.8,"y":-0.3,"g":"IR"},{"x":0.9,"y":-0.2,"g":"IR"},
{"x":7.1,"y":1.9,"g":"IR"},{"x":6.0,"y":1.6,"g":"IR"},{"x":5.5,"y":3.6,"g":"IR"},{"x":8.0,"y":4.0,"g":"IR"},{"x":0.9,"y":4.2,"g":"IR"},{"x":0.3,"y":2.5,"g":"IR"},{"x":0.5,"y":2.8,"g":"IR"},{"x":0.7,"y":3.5,"g":"IR"},{"x":1.1,"y":3.3,"g":"IR"},{"x":1.4,"y":3.9,"g":"IR"},
{"x":1.8,"y":3.8,"g":"IR"},{"x":2.3,"y":4.6,"g":"IR"},{"x":0.1,"y":1.6,"g":"IR"},{"x":-0.2,"y":0.9,"g":"IR"},{"x":0.6,"y":1.5,"g":"IR"},{"x":1.9,"y":4.9,"g":"IR"},{"x":2.7,"y":6.0,"g":"IR"},{"x":3.0,"y":5.2,"g":"IR"},{"x":3.6,"y":5.9,"g":"IR"},{"x":4.3,"y":6.5,"g":"IR"},
{"x":5.6,"y":6.8,"g":"IR"},{"x":6.7,"y":7.9,"g":"IR"},{"x":7.0,"y":8.5,"g":"IR"},{"x":8.2,"y":9.0,"g":"IR"},{"x":0.4,"y":0.1,"g":"IR"},{"x":0.6,"y":0.8,"g":"IR"},{"x":0.9,"y":0.4,"g":"IR"},{"x":1.1,"y":0.6,"g":"IR"},{"x":1.3,"y":0.9,"g":"IR"},{"x":1.6,"y":1.3,"g":"IR"},
{"x":1.9,"y":1.5,"g":"IR"},{"x":2.2,"y":1.9,"g":"IR"},{"x":2.4,"y":2.3,"g":"IR"},{"x":2.7,"y":2.4,"g":"IR"},{"x":3.0,"y":2.9,"g":"IR"},{"x":3.2,"y":3.2,"g":"IR"},{"x":3.5,"y":3.3,"g":"IR"},{"x":3.8,"y":3.8,"g":"IR"},{"x":4.1,"y":4.0,"g":"IR"},{"x":4.4,"y":4.5,"g":"IR"},
{"x":4.7,"y":4.6,"g":"IR"},{"x":5.0,"y":5.1,"g":"IR"},{"x":5.4,"y":5.4,"g":"IR"},{"x":5.9,"y":5.8,"g":"IR"},{"x":6.3,"y":6.1,"g":"IR"},{"x":6.9,"y":6.6,"g":"IR"},{"x":7.5,"y":7.2,"g":"IR"},{"x":-0.1,"y":-0.7,"g":"IR"},{"x":-0.5,"y":-1.2,"g":"IR"},{"x":-1.0,"y":-1.1,"g":"IR"},
{"x":7.4,"y":1.3,"g":"IR"},{"x":4.2,"y":1.0,"g":"IR"},{"x":4.3,"y":1.2,"g":"IR"},{"x":3.9,"y":1.6,"g":"IR"},{"x":-1.5,"y":-2.3,"g":"IR"},{"x":-1.5,"y":-2.0,"g":"IR"},
{"x":-0.7,"y":-0.6,"g":"IR"},{"x":-0.2,"y":-0.8,"g":"IR"},{"x":0.3,"y":0.2,"g":"IR"},{"x":0.8,"y":0.5,"g":"IR"},{"x":1.2,"y":1.1,"g":"IR"},{"x":1.5,"y":0.9,"g":"IR"},{"x":1.8,"y":1.6,"g":"IR"},{"x":2.1,"y":1.7,"g":"IR"},{"x":2.5,"y":2.1,"g":"IR"},{"x":2.8,"y":2.6,"g":"IR"},
{"x":3.1,"y":2.7,"g":"IR"},{"x":3.4,"y":3.1,"g":"IR"},{"x":3.7,"y":3.5,"g":"IR"},{"x":4.0,"y":3.8,"g":"IR"},{"x":4.3,"y":4.1,"g":"IR"},{"x":4.6,"y":4.4,"g":"IR"},{"x":4.9,"y":4.6,"g":"IR"},{"x":5.2,"y":5.0,"g":"IR"},{"x":5.5,"y":5.2,"g":"IR"},{"x":5.8,"y":5.7,"g":"IR"},
{"x":6.1,"y":5.9,"g":"IR"},{"x":6.5,"y":6.3,"g":"IR"},{"x":6.8,"y":6.5,"g":"IR"},{"x":7.1,"y":6.9,"g":"IR"},{"x":7.4,"y":7.2,"g":"IR"},{"x":7.7,"y":7.4,"g":"IR"},{"x":8.1,"y":7.9,"g":"IR"},{"x":8.5,"y":8.2,"g":"IR"},{"x":0.1,"y":-0.3,"g":"IR"},{"x":0.7,"y":0.2,"g":"IR"},
{"x":1.4,"y":1.0,"g":"IR"},{"x":2.0,"y":1.9,"g":"IR"},{"x":2.6,"y":2.2,"g":"IR"},{"x":3.3,"y":2.8,"g":"IR"},{"x":3.9,"y":3.6,"g":"IR"},{"x":4.5,"y":4.0,"g":"IR"},{"x":5.1,"y":4.7,"g":"IR"},{"x":5.7,"y":5.5,"g":"IR"},{"x":6.4,"y":6.0,"g":"IR"},{"x":7.0,"y":6.7,"g":"IR"},
{"x":-1.1,"y":-1.5,"g":"IR"},{"x":-0.5,"y":-0.9,"g":"IR"},{"x":1.0,"y":0.7,"g":"IR"},{"x":1.7,"y":1.2,"g":"IR"},{"x":2.3,"y":1.9,"g":"IR"},{"x":2.9,"y":2.3,"g":"IR"},{"x":3.6,"y":3.4,"g":"IR"},{"x":4.2,"y":3.6,"g":"IR"},{"x":4.8,"y":4.1,"g":"IR"},{"x":5.4,"y":4.6,"g":"IR"},
{"x":6.0,"y":5.1,"g":"IR"},{"x":6.6,"y":5.5,"g":"IR"},{"x":2.2,"y":0.7,"g":"IR"},{"x":3.4,"y":1.6,"g":"IR"},{"x":4.0,"y":2.0,"g":"IR"},{"x":4.7,"y":2.5,"g":"IR"},{"x":5.3,"y":3.2,"g":"IR"},{"x":6.3,"y":4.0,"g":"IR"},{"x":2.6,"y":3.5,"g":"IR"},{"x":3.4,"y":4.3,"g":"IR"},
{"x":1.6,"y":2.2,"g":"IR"},
{"x":-1.5,"y":-1.5,"g":"CM"},{"x":-1.1,"y":-1.2,"g":"CM"},{"x":-0.8,"y":-2.0,"g":"CM"},{"x":-0.5,"y":-0.8,"g":"CM"},{"x":-0.2,"y":-0.5,"g":"CM"},{"x":0.0,"y":0.3,"g":"CM"},{"x":0.3,"y":-0.2,"g":"CM"},{"x":0.27,"y":3.66,"g":"CM"},{"x":0.6,"y":0.5,"g":"CM"},{"x":0.9,"y":1.1,"g":"CM"},
{"x":1.2,"y":0.7,"g":"CM"},{"x":1.5,"y":1.8,"g":"CM"},{"x":1.8,"y":1.2,"g":"CM"},{"x":2.1,"y":2.2,"g":"CM"},{"x":2.4,"y":2.0,"g":"CM"},{"x":2.7,"y":3.0,"g":"CM"},{"x":3.0,"y":2.7,"g":"CM"},{"x":3.3,"y":3.6,"g":"CM"},{"x":3.6,"y":3.1,"g":"CM"},{"x":3.9,"y":4.1,"g":"CM"},
{"x":4.2,"y":3.8,"g":"CM"},{"x":4.5,"y":4.7,"g":"CM"},{"x":4.8,"y":4.2,"g":"CM"},{"x":5.1,"y":5.3,"g":"CM"},{"x":5.4,"y":4.8,"g":"CM"},{"x":5.7,"y":5.9,"g":"CM"},{"x":6.0,"y":5.4,"g":"CM"},{"x":6.3,"y":6.5,"g":"CM"},{"x":6.6,"y":5.9,"g":"CM"},{"x":6.9,"y":7.1,"g":"CM"},
{"x":7.2,"y":6.7,"g":"CM"},{"x":7.5,"y":7.6,"g":"CM"},{"x":7.8,"y":7.3,"g":"CM"},{"x":8.1,"y":8.3,"g":"CM"},{"x":8.4,"y":7.9,"g":"CM"},{"x":8.7,"y":8.8,"g":"CM"},{"x":9.0,"y":8.5,"g":"CM"},{"x":9.3,"y":9.4,"g":"CM"},{"x":9.6,"y":9.1,"g":"CM"},{"x":9.9,"y":9.9,"g":"CM"},
{"x":10.2,"y":9.8,"g":"CM"},{"x":10.5,"y":10.5,"g":"CM"},{"x":10.8,"y":10.4,"g":"CM"},{"x":11.2,"y":11.0,"g":"CM"},{"x":11.6,"y":11.5,"g":"CM"},{"x":12.0,"y":10.4,"g":"CM"},{"x":12.6,"y":11.4,"g":"CM"},{"x":12.6,"y":11.1,"g":"CM"},{"x":12.9,"y":12.9,"g":"CM"},{"x":2.3,"y":3.9,"g":"CM"},
{"x":2.9,"y":5.8,"g":"CM"},{"x":4.6,"y":4.0,"g":"CM"},{"x":1.6,"y":0.2,"g":"CM"},{"x":2.0,"y":-0.2,"g":"CM"},{"x":-0.7,"y":-1.5,"g":"CM"},{"x":5.9,"y":6.6,"g":"CM"},{"x":6.7,"y":6.8,"g":"CM"},{"x":7.0,"y":5.8,"g":"CM"},{"x":8.1,"y":7.0,"g":"CM"},{"x":3.2,"y":2.0,"g":"CM"},
{"x":4.0,"y":2.9,"g":"CM"},{"x":5.3,"y":4.1,"g":"CM"},{"x":9.6,"y":8.4,"g":"CM"},{"x":10.4,"y":9.2,"g":"CM"},{"x":11.0,"y":10.3,"g":"CM"},{"x":2.5,"y":4.4,"g":"CM"},{"x":1.1,"y":2.1,"g":"CM"},{"x":0.8,"y":1.5,"g":"CM"},{"x":7.4,"y":6.2,"g":"CM"},{"x":8.8,"y":8.1,"g":"CM"},
{"x":6.4,"y":5.6,"g":"CM"},{"x":5.0,"y":4.1,"g":"CM"},{"x":3.7,"y":3.0,"g":"CM"},{"x":12.7,"y":11.8,"g":"CM"},{"x":-0.83,"y":-1.76,"g":"CM"},{"x":-1.07,"y":-1.6,"g":"CM"},
{"x":0.2,"y":0.4,"g":"CM"},{"x":0.7,"y":0.8,"g":"CM"},{"x":1.3,"y":1.2,"g":"CM"},{"x":1.9,"y":1.9,"g":"CM"},{"x":2.6,"y":2.5,"g":"CM"},{"x":3.1,"y":3.2,"g":"CM"},{"x":3.5,"y":3.4,"g":"CM"},{"x":4.1,"y":4.3,"g":"CM"},{"x":4.4,"y":4.1,"g":"CM"},{"x":4.9,"y":5.0,"g":"CM"},
{"x":5.5,"y":5.4,"g":"CM"},{"x":6.1,"y":6.0,"g":"CM"},{"x":6.8,"y":6.6,"g":"CM"},{"x":7.3,"y":7.2,"g":"CM"},{"x":7.9,"y":7.7,"g":"CM"},{"x":8.5,"y":8.3,"g":"CM"},{"x":9.1,"y":9.0,"g":"CM"},{"x":9.7,"y":9.5,"g":"CM"},{"x":10.3,"y":10.1,"g":"CM"},{"x":10.9,"y":10.7,"g":"CM"},
{"x":11.4,"y":11.2,"g":"CM"},{"x":11.9,"y":11.6,"g":"CM"},{"x":6.2,"y":5.2,"g":"CM"},{"x":7.6,"y":6.6,"g":"CM"},{"x":9.2,"y":8.2,"g":"CM"},{"x":3.8,"y":2.5,"g":"CM"},{"x":2.2,"y":1.0,"g":"CM"},{"x":5.6,"y":4.4,"g":"CM"},
{"x":1.0,"y":1.3,"g":"CV2"},{"x":2.5,"y":2.4,"g":"CV2"},{"x":3.5,"y":3.8,"g":"CV2"},{"x":4.5,"y":4.4,"g":"CV2"},{"x":5.5,"y":5.7,"g":"CV2"},{"x":6.5,"y":6.4,"g":"CV2"},{"x":7.5,"y":7.7,"g":"CV2"},{"x":8.5,"y":8.4,"g":"CV2"},{"x":9.5,"y":9.6,"g":"CV2"},{"x":10.5,"y":10.3,"g":"CV2"},
{"x":11.5,"y":11.6,"g":"CV2"},{"x":12.5,"y":12.2,"g":"CV2"},{"x":14.5,"y":14.7,"g":"CV2"},{"x":14.6,"y":14.6,"g":"CV2"},{"x":5.3,"y":10.4,"g":"CV2"},{"x":5.4,"y":9.8,"g":"CV2"},{"x":6.1,"y":10.1,"g":"CV2"},{"x":6.3,"y":9.7,"g":"CV2"},{"x":6.5,"y":10.3,"g":"CV2"},{"x":7.1,"y":11.7,"g":"CV2"},
{"x":7.8,"y":11.1,"g":"CV2"},{"x":7.7,"y":10.7,"g":"CV2"},{"x":7.6,"y":10.3,"g":"CV2"},{"x":8.0,"y":10.2,"g":"CV2"},{"x":8.5,"y":10.8,"g":"CV2"},{"x":8.8,"y":10.7,"g":"CV2"},{"x":9.2,"y":11.1,"g":"CV2"},{"x":9.0,"y":10.2,"g":"CV2"},{"x":9.4,"y":9.5,"g":"CV2"},{"x":10.2,"y":12.5,"g":"CV2"},
{"x":9.9,"y":12.9,"g":"CV2"},{"x":9.5,"y":12.8,"g":"CV2"},{"x":10.6,"y":12.8,"g":"CV2"},{"x":10.5,"y":12.6,"g":"CV2"},{"x":11.3,"y":12.3,"g":"CV2"},{"x":11.6,"y":13.0,"g":"CV2"},{"x":12.4,"y":12.0,"g":"CV2"},{"x":12.6,"y":11.8,"g":"CV2"},{"x":4.9,"y":6.2,"g":"CV2"},{"x":4.4,"y":7.3,"g":"CV2"},
{"x":5.1,"y":6.5,"g":"CV2"},{"x":3.0,"y":4.8,"g":"CV2"},{"x":2.2,"y":6.8,"g":"CV2"},{"x":4.7,"y":8.2,"g":"CV2"},{"x":6.2,"y":7.2,"g":"CV2"},{"x":8.2,"y":9.6,"g":"CV2"},{"x":7.3,"y":8.6,"g":"CV2"},{"x":6.7,"y":9.8,"g":"CV2"},{"x":9.7,"y":11.6,"g":"CV2"},{"x":11.4,"y":8.3,"g":"CV2"},
{"x":11.7,"y":8.2,"g":"CV2"},{"x":9.6,"y":6.8,"g":"CV2"},{"x":9.9,"y":6.8,"g":"CV2"},{"x":10.1,"y":6.7,"g":"CV2"},{"x":9.8,"y":6.6,"g":"CV2"},{"x":10.4,"y":7.0,"g":"CV2"},{"x":10.0,"y":7.6,"g":"CV2"},{"x":8.6,"y":7.4,"g":"CV2"},{"x":8.9,"y":7.0,"g":"CV2"},{"x":9.1,"y":6.8,"g":"CV2"},
{"x":9.4,"y":7.5,"g":"CV2"},{"x":9.3,"y":5.4,"g":"CV2"},{"x":8.8,"y":5.1,"g":"CV2"},{"x":8.3,"y":5.1,"g":"CV2"},{"x":9.3,"y":5.2,"g":"CV2"},{"x":8.3,"y":4.0,"g":"CV2"},{"x":8.3,"y":3.7,"g":"CV2"},{"x":8.4,"y":3.4,"g":"CV2"},{"x":8.6,"y":4.3,"g":"CV2"},{"x":7.5,"y":2.3,"g":"CV2"},
{"x":7.7,"y":2.5,"g":"CV2"},{"x":7.0,"y":3.7,"g":"CV2"},{"x":6.7,"y":3.9,"g":"CV2"},{"x":6.0,"y":4.2,"g":"CV2"},{"x":5.8,"y":3.4,"g":"CV2"},{"x":5.5,"y":3.8,"g":"CV2"},{"x":6.2,"y":2.1,"g":"CV2"},{"x":5.3,"y":1.9,"g":"CV2"},{"x":4.7,"y":2.0,"g":"CV2"},{"x":4.3,"y":2.6,"g":"CV2"},
{"x":4.0,"y":2.6,"g":"CV2"},{"x":3.2,"y":1.2,"g":"CV2"},{"x":2.6,"y":1.6,"g":"CV2"},{"x":2.9,"y":0.6,"g":"CV2"},{"x":6.4,"y":4.9,"g":"CV2"},{"x":7.8,"y":5.2,"g":"CV2"},{"x":10.5,"y":8.9,"g":"CV2"},{"x":11.1,"y":9.5,"g":"CV2"},{"x":12.7,"y":11.0,"g":"CV2"},{"x":12.3,"y":10.0,"g":"CV2"},
{"x":4.8,"y":6.0,"g":"CV2"},{"x":5.2,"y":6.3,"g":"CV2"},{"x":4.6,"y":6.1,"g":"CV2"},
{"x":6.9,"y":7.0,"g":"CV2"},{"x":7.9,"y":7.8,"g":"CV2"},{"x":8.9,"y":8.8,"g":"CV2"},{"x":9.9,"y":9.7,"g":"CV2"},{"x":10.9,"y":11.1,"g":"CV2"},{"x":11.9,"y":11.9,"g":"CV2"},{"x":5.9,"y":6.4,"g":"CV2"},{"x":4.9,"y":4.6,"g":"CV2"},
{"x":-1.0,"y":-0.9,"g":"CV3"},{"x":0.0,"y":0.2,"g":"CV3"},{"x":1.0,"y":0.8,"g":"CV3"},{"x":1.5,"y":1.7,"g":"CV3"},{"x":2.0,"y":2.2,"g":"CV3"},{"x":3.0,"y":3.1,"g":"CV3"},{"x":4.0,"y":3.9,"g":"CV3"},{"x":5.0,"y":5.3,"g":"CV3"},{"x":6.0,"y":5.9,"g":"CV3"},{"x":7.0,"y":7.2,"g":"CV3"},
{"x":8.0,"y":7.9,"g":"CV3"},{"x":8.5,"y":8.7,"g":"CV3"},{"x":9.0,"y":9.3,"g":"CV3"},{"x":9.3,"y":8.9,"g":"CV3"},{"x":9.6,"y":9.8,"g":"CV3"},{"x":9.8,"y":9.4,"g":"CV3"},{"x":10.1,"y":10.2,"g":"CV3"},{"x":10.4,"y":9.9,"g":"CV3"},{"x":10.7,"y":10.9,"g":"CV3"},{"x":11.0,"y":10.6,"g":"CV3"},
{"x":11.3,"y":11.5,"g":"CV3"},{"x":11.8,"y":11.2,"g":"CV3"},{"x":12.2,"y":12.1,"g":"CV3"},{"x":2.7,"y":8.2,"g":"CV3"},{"x":2.2,"y":7.6,"g":"CV3"},{"x":2.9,"y":7.8,"g":"CV3"},{"x":3.2,"y":7.4,"g":"CV3"},{"x":3.1,"y":7.3,"g":"CV3"},{"x":3.6,"y":7.9,"g":"CV3"},{"x":3.7,"y":7.9,"g":"CV3"},
{"x":3.9,"y":7.1,"g":"CV3"},{"x":4.0,"y":7.1,"g":"CV3"},{"x":4.6,"y":8.2,"g":"CV3"},{"x":4.3,"y":8.2,"g":"CV3"},{"x":4.8,"y":7.7,"g":"CV3"},{"x":5.1,"y":7.6,"g":"CV3"},{"x":4.4,"y":7.5,"g":"CV3"},{"x":5.0,"y":6.5,"g":"CV3"},{"x":4.3,"y":6.8,"g":"CV3"},{"x":2.3,"y":4.9,"g":"CV3"},
{"x":1.9,"y":4.9,"g":"CV3"},{"x":2.6,"y":5.0,"g":"CV3"},{"x":2.9,"y":5.8,"g":"CV3"},{"x":3.3,"y":6.0,"g":"CV3"},{"x":3.5,"y":6.3,"g":"CV3"},{"x":4.5,"y":5.9,"g":"CV3"},{"x":1.3,"y":3.8,"g":"CV3"},{"x":1.0,"y":3.0,"g":"CV3"},{"x":0.7,"y":2.1,"g":"CV3"},{"x":5.8,"y":8.1,"g":"CV3"},
{"x":6.3,"y":8.5,"g":"CV3"},{"x":6.8,"y":8.3,"g":"CV3"},{"x":7.7,"y":8.6,"g":"CV3"},{"x":8.2,"y":9.5,"g":"CV3"},{"x":9.0,"y":10.6,"g":"CV3"},{"x":10.7,"y":12.3,"g":"CV3"},{"x":11.3,"y":12.1,"g":"CV3"},{"x":10.3,"y":10.6,"g":"CV3"},{"x":-0.5,"y":0.4,"g":"CV3"},{"x":0.4,"y":1.3,"g":"CV3"},
{"x":8.6,"y":5.9,"g":"CV3"},{"x":9.4,"y":5.3,"g":"CV3"},{"x":9.2,"y":7.2,"g":"CV3"},{"x":9.8,"y":7.3,"g":"CV3"},{"x":10.0,"y":7.8,"g":"CV3"},{"x":10.2,"y":8.0,"g":"CV3"},{"x":11.8,"y":10.1,"g":"CV3"},{"x":12.8,"y":12.0,"g":"CV3"},{"x":6.3,"y":5.5,"g":"CV3"},{"x":7.5,"y":6.6,"g":"CV3"},
{"x":3.0,"y":1.8,"g":"CV3"},{"x":-1.0,"y":-1.6,"g":"CV3"},
{"x":8.8,"y":8.9,"g":"CV3"},{"x":9.1,"y":8.7,"g":"CV3"},{"x":9.4,"y":9.6,"g":"CV3"},{"x":9.7,"y":9.1,"g":"CV3"},{"x":9.9,"y":10.0,"g":"CV3"},{"x":10.2,"y":9.7,"g":"CV3"},{"x":10.5,"y":10.4,"g":"CV3"},{"x":10.8,"y":10.3,"g":"CV3"},{"x":11.1,"y":11.0,"g":"CV3"},{"x":11.5,"y":10.9,"g":"CV3"},
{"x":7.4,"y":7.3,"g":"CV3"},{"x":7.9,"y":8.2,"g":"CV3"},{"x":6.5,"y":6.9,"g":"CV3"},{"x":5.5,"y":6.0,"g":"CV3"},{"x":4.6,"y":5.2,"g":"CV3"},{"x":3.4,"y":4.1,"g":"CV3"},{"x":2.5,"y":3.2,"g":"CV3"},{"x":1.2,"y":1.6,"g":"CV3"}
]
},
"vconcat": [
{
  "title": {"text": "a", "offset": -23, "dx": -66.5},
  "width": 570.5,
  "height": 382,
  "data": {"name": "a"},
  "mark": {"type": "circle", "size": 80, "opacity": 0.85},
  "encoding": {
    "x": {"field": "pc1", "type": "quantitative", "scale": {"domain": [-0.2245, 0.1568], "nice": false, "zero": false},
          "axis": {"title": "PC1 (19.11%)", "values": [-0.2, -0.1, 0, 0.1], "labelExpr": "datum.value < 0 ? '-' + format(-datum.value, '.1f') : format(datum.value, '.1f')", "titlePadding": 5}},
    "y": {"field": "pc2", "type": "quantitative", "scale": {"domain": [-0.1658, 0.1766], "nice": false, "zero": false},
          "axis": {"title": "PC2 (8.94%)", "values": [-0.1, 0, 0.1], "labelExpr": "datum.value < 0 ? '-' + format(-datum.value, '.1f') : format(datum.value, '.1f')", "labelPadding": 6, "titlePadding": 3}},
    "color": {"field": "plate", "type": "nominal",
              "scale": {"domain": ["1", "2", "3", "4", "5"], "range": ["#F8766D", "#A3A500", "#00BF7D", "#00B0F6", "#E76BF3"]},
              "legend": {"title": "Plate ID", "orient": "none", "legendX": 87, "legendY": -38, "direction": "horizontal", "titleOrient": "left", "titleAnchor": "start", "titleBaseline": "top", "titleFontSize": 20, "titlePadding": 17.4, "labelFontSize": 19, "labelOffset": 14, "columnPadding": 19.4, "symbolType": "circle", "symbolSize": 80, "symbolOpacity": 0.85, "symbolStrokeWidth": 0}}
  }
},
{
  "vconcat": [
  {
    "title": {"text": "b", "offset": -31.4, "dx": -68.5},
    "width": 582.7,
    "height": 465.4,
    "layer": [
      {"data": {"name": "b"},
       "mark": {"type": "circle", "size": 78, "color": "#3a3a3a", "opacity": 0.55},
       "encoding": {
         "x": {"field": "c5", "type": "quantitative", "scale": {"domain": [-2.515, 17.98], "nice": false, "zero": false}, "axis": {"title": "Well C5 (Relative Log2 Abundance)", "values": [0, 5, 10, 15], "titlePadding": 10.5}},
         "y": {"field": "e9", "type": "quantitative", "scale": {"domain": [-2.82, 17.94], "nice": false, "zero": false}, "axis": {"title": "Well E9 (Relative Log2 Abundance)", "values": [0, 5, 10, 15], "labelPadding": 6, "titlePadding": 10.6}}
       }},
      {"data": {"values": [{"c5": -3, "e9": -3}, {"c5": 19, "e9": 19}]},
       "mark": {"type": "line", "color": "#FF0000", "strokeWidth": 1.6, "clip": true},
       "encoding": {
         "x": {"field": "c5", "type": "quantitative", "scale": {"domain": [-2.515, 17.98], "nice": false, "zero": false}},
         "y": {"field": "e9", "type": "quantitative", "scale": {"domain": [-2.82, 17.94], "nice": false, "zero": false}}
       }},
      {"data": {"values": [{"c5": -1.56, "e9": -1.83}, {"c5": 17.0, "e9": 16.95}]},
       "mark": {"type": "line", "color": "#0000FF", "strokeWidth": 1.6, "clip": true},
       "encoding": {
         "x": {"field": "c5", "type": "quantitative", "scale": {"domain": [-2.515, 17.98], "nice": false, "zero": false}},
         "y": {"field": "e9", "type": "quantitative", "scale": {"domain": [-2.82, 17.94], "nice": false, "zero": false}}
       }}
    ]
  },
  {
    "title": {"text": "c", "offset": -23, "dx": -67},
    "width": 583.2,
    "height": 465.5,
    "layer": [
      {"data": {"name": "c"},
       "transform": [{"filter": "datum.g == 'CM' || datum.g == 'CV2' || datum.g == 'CV3'"}],
       "mark": {"type": "point", "filled": true, "size": 28, "fillOpacity": 0.4, "strokeOpacity": 0.7, "strokeWidth": 0.9},
       "encoding": {
         "x": {"field": "x", "type": "quantitative", "scale": {"domain": [-2.914, 17.27], "nice": false, "zero": false}, "axis": {"title": "Plasma (Relative Log2 Abundance)", "values": [0, 5, 10, 15], "labelPadding": 4, "titlePadding": 8}},
         "y": {"field": "y", "type": "quantitative", "scale": {"domain": [-3.52, 17.3], "nice": false, "zero": false}, "axis": {"title": "Serum (Relative Log2 Abundance)", "values": [0, 5, 10, 15], "labelPadding": 6, "titlePadding": 7.4}},
         "color": {"field": "g", "type": "nominal", "scale": {"domain": ["CM", "CV2", "CV3"], "range": ["#F8766D", "#A3A500", "#00BF7D"]},
                   "legend": {"title": null, "orient": "none", "legendX": 117, "legendY": -65.6, "direction": "horizontal", "labelFontSize": 16, "labelOffset": 20.6, "columnPadding": 17.6, "symbolType": "circle", "symbolSize": 25, "symbolOpacity": 0.4, "symbolStrokeWidth": 0,
                              "labelExpr": "datum.label == 'CM' ? 'Cardiometabolic' : datum.label == 'CV2' ? 'Cardiovascular II' : 'Cardiovascular III'"}},
         "stroke": {"field": "g", "type": "nominal", "scale": {"domain": ["CM", "CV2", "CV3", "INF", "IR"], "range": ["#F8766D", "#A3A500", "#00BF7D", "#00B0F6", "#E76BF3"]}, "legend": null}
       }},
      {"data": {"name": "c"},
       "transform": [{"filter": "datum.g == 'INF' || datum.g == 'IR'"}],
       "mark": {"type": "point", "filled": true, "size": 28, "fillOpacity": 0.4, "strokeOpacity": 0.7, "strokeWidth": 0.9},
       "encoding": {
         "x": {"field": "x", "type": "quantitative", "scale": {"domain": [-2.914, 17.27], "nice": false, "zero": false}},
         "y": {"field": "y", "type": "quantitative", "scale": {"domain": [-3.52, 17.3], "nice": false, "zero": false}},
         "fill": {"field": "g", "type": "nominal", "scale": {"domain": ["INF", "IR"], "range": ["#00B0F6", "#E76BF3"]},
                  "legend": {"title": "Panel", "orient": "none", "legendX": 46.3, "legendY": -37.6, "direction": "horizontal", "titleOrient": "left", "titleAnchor": "start", "titleBaseline": "bottom", "titleFontSize": 20, "titlePadding": 101.8, "labelFontSize": 16, "labelOffset": 19, "columnPadding": 17, "symbolType": "circle", "symbolSize": 25, "symbolOpacity": 0.4, "symbolStrokeWidth": 0,
                             "labelExpr": "datum.label == 'INF' ? 'Inflammation' : 'Immune Response'"}},
         "stroke": {"field": "g", "type": "nominal", "scale": {"domain": ["CM", "CV2", "CV3", "INF", "IR"], "range": ["#F8766D", "#A3A500", "#00BF7D", "#00B0F6", "#E76BF3"]}, "legend": null}
       }},
      {"data": {"values": [{"x": -4, "y": -4}, {"x": 18, "y": 18}]},
       "mark": {"type": "line", "color": "#FF0000", "strokeWidth": 1.3, "clip": true},
       "encoding": {
         "x": {"field": "x", "type": "quantitative", "scale": {"domain": [-2.914, 17.27], "nice": false, "zero": false}},
         "y": {"field": "y", "type": "quantitative", "scale": {"domain": [-3.52, 17.3], "nice": false, "zero": false}}
       }},
      {"data": {"values": [{"x": -2.0, "y": -1.84}, {"x": 16.33, "y": 16.2}]},
       "mark": {"type": "line", "color": "#000000", "strokeWidth": 3, "clip": true},
       "encoding": {
         "x": {"field": "x", "type": "quantitative", "scale": {"domain": [-2.914, 17.27], "nice": false, "zero": false}},
         "y": {"field": "y", "type": "quantitative", "scale": {"domain": [-3.52, 17.3], "nice": false, "zero": false}}
       }}
    ]
  }
  ],
  "spacing": 175.6,
  "bounds": "flush",
  "resolve": {"scale": {"color": "independent", "fill": "independent", "stroke": "independent"}, "legend": {"color": "independent", "fill": "independent"}}
}
],
"spacing": 88.6,
"bounds": "flush",
"resolve": {"scale": {"color": "independent", "fill": "independent", "stroke": "independent"}, "legend": {"color": "independent", "fill": "independent"}}
}
